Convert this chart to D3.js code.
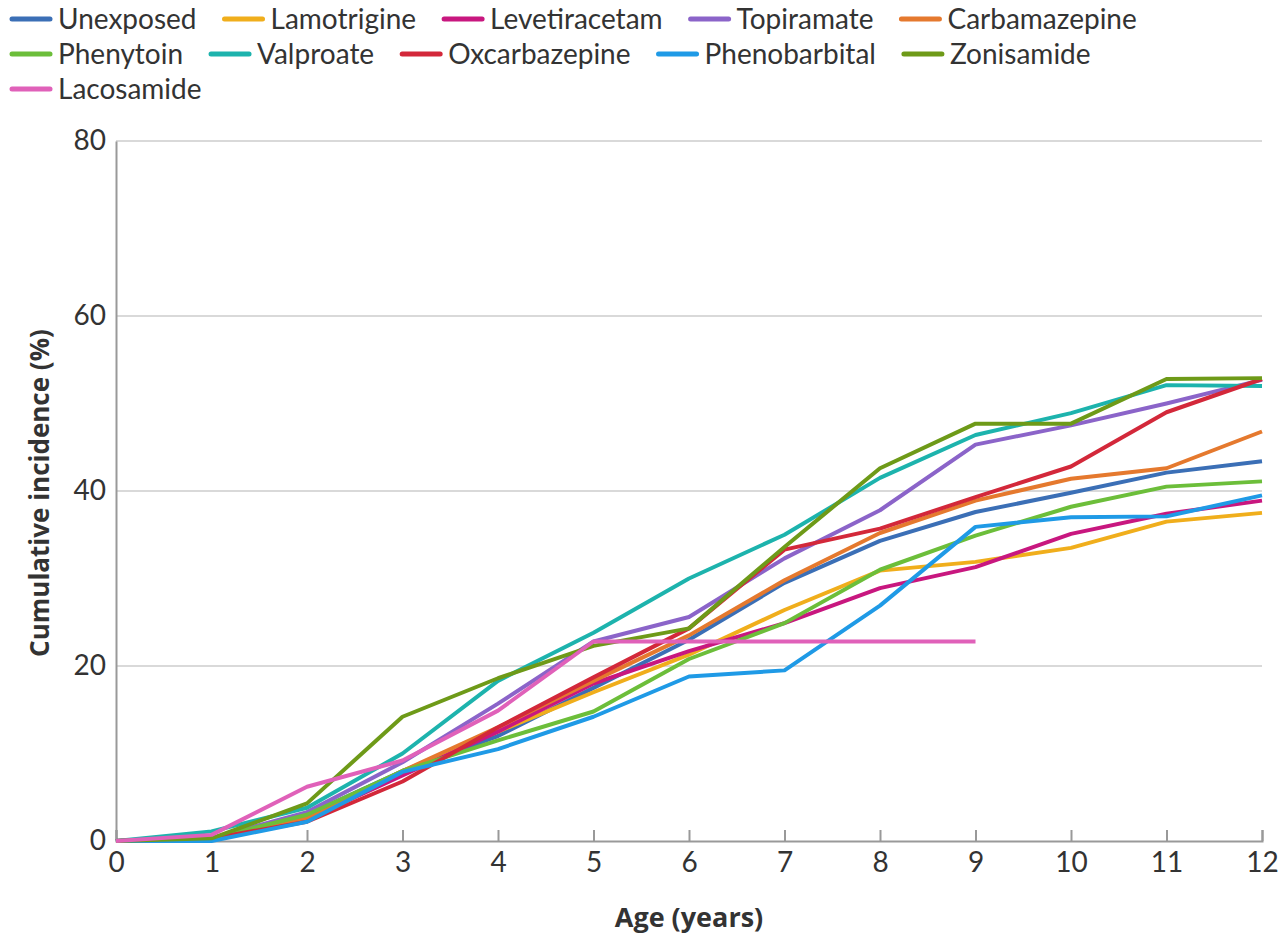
<!DOCTYPE html>
<html>
<head>
<meta charset="utf-8">
<script src="https://cdn.jsdelivr.net/npm/d3@7"></script>
<style>
  html, body { margin: 0; padding: 0; background: #fff; }
  svg { display: block; }
</style>
</head>
<body>
<svg id="chart" width="1280" height="939"></svg>
<script>
const ages = [0, 1, 2, 3, 4, 5, 6, 7, 8, 9, 10, 11, 12];
const yTicks = [0, 20, 40, 60, 80];

const seriesNames = ["Unexposed", "Lamotrigine", "Levetiracetam", "Topiramate", "Carbamazepine",
  "Phenytoin", "Valproate", "Oxcarbazepine", "Phenobarbital", "Zonisamide", "Lacosamide"];
const seriesColors = ["#3b6fb6", "#f0ae1c", "#c8177f", "#8b64c9", "#e5792e",
  "#6cbe3a", "#1db3ad", "#d3283a", "#1f9ae6", "#6e9a18", "#e061b9"];

const unexposed     = [0, 0.3, 3.0, 8.0, 12.0, 17.5, 23.0, 29.5, 34.3, 37.6, 39.8, 42.1, 43.4];
const lamotrigine   = [0, 0.3, 2.5, 8.0, 12.5, 17.0, 21.3, 26.4, 30.9, 31.9, 33.5, 36.5, 37.5];
const levetiracetam = [0, 0.3, 2.5, 7.5, 12.5, 18.0, 21.7, 24.9, 28.9, 31.3, 35.1, 37.4, 38.9];
const topiramate    = [0, 0.3, 3.3, 9.0, 15.7, 22.8, 25.6, 32.3, 37.8, 45.3, 47.5, 50.0, 52.7];
const carbamazepine = [0, 0.3, 2.6, 8.0, 13.0, 18.3, 23.5, 29.8, 35.2, 38.9, 41.4, 42.6, 46.8];
const phenytoin     = [0, 0.3, 3.0, 8.0, 11.5, 14.8, 20.8, 24.9, 31.0, 34.9, 38.2, 40.5, 41.1];
const valproate     = [0, 1.1, 3.8, 10.0, 18.3, 23.8, 30.0, 35.0, 41.5, 46.4, 48.9, 52.1, 52.0];
const oxcarbazepine = [0, 0.3, 2.2, 6.8, 13.0, 18.7, 24.3, 33.3, 35.7, 39.3, 42.8, 49.0, 52.8];
const phenobarbital = [0, 0.0, 2.2, 7.9, 10.5, 14.2, 18.8, 19.5, 26.9, 35.9, 37.0, 37.1, 39.5];
const zonisamide    = [0, 0.3, 4.3, 14.2, 18.6, 22.3, 24.3, 33.6, 42.6, 47.7, 47.7, 52.8, 52.9];
const lacosamide    = [0, 0.7, 6.2, 9.2, 14.9, 22.8, 22.8, 22.8, 22.8, 22.8];

const seriesValues = [unexposed, lamotrigine, levetiracetam, topiramate, carbamazepine,
  phenytoin, valproate, oxcarbazepine, phenobarbital, zonisamide, lacosamide];

const svg = d3.select("#chart");
const FONT = "Lato, 'Open Sans', sans-serif";
const TITLE_FONT = "'Open Sans', Lato, sans-serif";
const margin = { left: 116, right: 18, top: 141, bottom: 98 };
const W = 1280, H = 939;

const x = d3.scaleLinear().domain([0, 12]).range([margin.left, W - margin.right]);
const y = d3.scaleLinear().domain([0, 80]).range([H - margin.bottom, margin.top]);

// gridlines
svg.append("g")
  .selectAll("line")
  .data(yTicks.filter(d => d > 0))
  .join("line")
  .attr("x1", x(0)).attr("x2", x(12))
  .attr("y1", d => y(d)).attr("y2", d => y(d))
  .attr("stroke", "#d9d9d9").attr("stroke-width", 2);

// y axis
const yAxis = svg.append("g")
  .attr("transform", `translate(${x(0)},0)`)
  .call(d3.axisLeft(y).tickValues(yTicks).tickSize(0).tickPadding(10));
yAxis.select(".domain").attr("stroke", "#999").attr("stroke-width", 2);
yAxis.selectAll("text").attr("font-family", FONT).attr("font-size", 28).attr("fill", "#333");

// x axis
const xAxis = svg.append("g")
  .attr("transform", `translate(0,${y(0)})`)
  .call(d3.axisTop(x).tickValues(ages).tickSize(11).tickFormat(d3.format("d")));
xAxis.select(".domain").attr("stroke", "#999").attr("stroke-width", 2);
xAxis.selectAll(".tick line").attr("stroke", "#999").attr("stroke-width", 2);
xAxis.selectAll("text")
  .attr("y", 31)
  .attr("font-family", FONT).attr("font-size", 28).attr("fill", "#333");

// lines
const line = d3.line().x((d, i) => x(ages[i])).y(d => y(d));
svg.append("g")
  .selectAll("path")
  .data(seriesValues)
  .join("path")
  .attr("d", d => line(d))
  .attr("fill", "none")
  .attr("stroke", (d, i) => seriesColors[i])
  .attr("stroke-width", 4)
  .attr("stroke-linejoin", "round");

// axis titles
svg.append("text")
  .attr("x", (x(0) + x(12)) / 2).attr("y", 927)
  .attr("text-anchor", "middle")
  .attr("font-family", TITLE_FONT).attr("font-size", 27).attr("font-weight", "bold").attr("fill", "#333")
  .text("Age (years)");
svg.append("text")
  .attr("transform", `translate(49,${(y(0) + y(80)) / 2 + 2}) rotate(-90)`)
  .attr("text-anchor", "middle")
  .attr("font-family", TITLE_FONT).attr("font-size", 26).attr("font-weight", "bold").attr("fill", "#333")
  .text("Cumulative incidence (%)");

// legend (flow layout)
const legend = svg.append("g");
let lx = 10, ly = 19;
const swatch = 42, gapText = 6, gapItem = 26, maxW = 1275, rowH = 35;
seriesNames.forEach((name, i) => {
  const g = legend.append("g");
  const t = g.append("text")
    .attr("x", swatch + gapText).attr("y", 0).attr("dy", "0.35em")
    .attr("font-family", FONT).attr("font-size", 28).attr("fill", "#333")
    .text(name);
  const tw = t.node().getComputedTextLength();
  const w = swatch + gapText + tw;
  if (lx + w > maxW) { lx = 10; ly += rowH; }
  g.attr("transform", `translate(${lx},${ly})`);
  g.append("line")
    .attr("x1", 2).attr("x2", swatch - 2).attr("y1", 0).attr("y2", 0)
    .attr("stroke", seriesColors[i]).attr("stroke-width", 5).attr("stroke-linecap", "round");
  lx += w + gapItem;
});
</script>
</body>
</html>
